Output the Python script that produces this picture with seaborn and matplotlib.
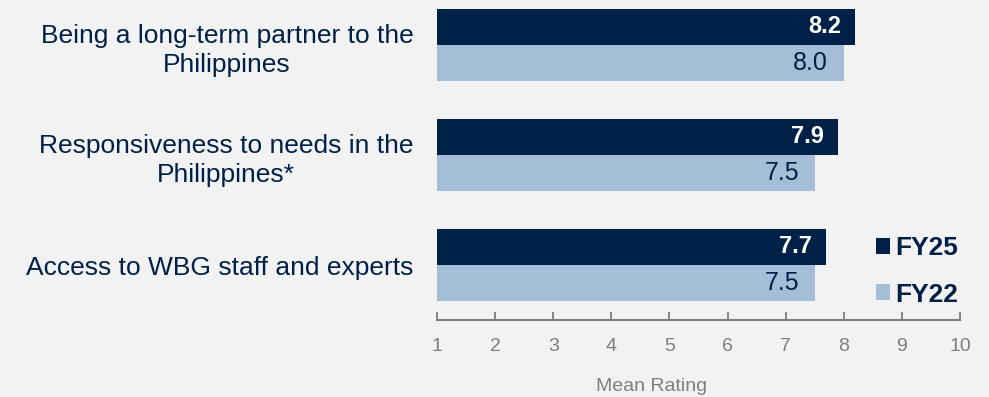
import pandas as pd
import numpy as np
import matplotlib.pyplot as plt
import seaborn as sns

#-- data --#
items = ['Being a long-term partner to the\nPhilippines',
         'Responsiveness to needs in the\nPhilippines*',
         'Access to WBG staff and experts']
fy25 = [8.2, 7.9, 7.7]
fy22 = [8.0, 7.5, 7.5]
years = ['FY25', 'FY22']

df = pd.DataFrame({'item': items * 2,
                   'rating': fy25 + fy22,
                   'year': ['FY25'] * 3 + ['FY22'] * 3})

navy = '#002147'
light = '#A3BED6'
grey = '#7F7F7F'
bg = '#F2F2F2'

sns.set_style('white')
plt.rcParams['font.family'] = ['Liberation Sans', 'DejaVu Sans']

fig = plt.figure(figsize=(9.89, 3.97), dpi=100, facecolor=bg)
ax = fig.add_axes([437 / 989, 1 - 320 / 397, (960 - 437) / 989, 320 / 397])
ax.set_facecolor(bg)

sns.barplot(data=df, y='item', x='rating', hue='year', hue_order=years,
            palette=[navy, light], orient='h', width=0.66, ax=ax,
            saturation=1, linewidth=0, legend=True)

ax.set_xlim(1, 10)
ax.set_ylim(2.5, -0.41)
ax.set_xticks(range(1, 11))

# value labels inside bar ends
for cont, yr in zip(ax.containers, years):
    for bar, v in zip(cont, df[df.year == yr].rating):
        y = bar.get_y() + bar.get_height() / 2
        if yr == 'FY25':
            ax.text(v - 0.25, y, f'{v:.1f}', ha='right', va='center',
                    color='white', fontsize=17, fontweight='bold')
        else:
            ax.text(v - 0.27, y, f'{v:.1f}', ha='right', va='center',
                    color=navy, fontsize=18)

sns.despine(ax=ax, left=True)
ax.spines['bottom'].set_color(grey)
ax.spines['bottom'].set_linewidth(1.5)
ax.tick_params(axis='x', bottom=True, direction='in', length=6, width=1.3,
               colors=grey, labelsize=14, pad=13, labelcolor=grey)
ax.tick_params(axis='y', left=False, length=0, pad=17, labelsize=19,
               labelcolor=navy)
for t in ax.get_yticklabels():
    t.set_multialignment('center')
    t.set_linespacing(1.3)

ax.set_ylabel('')
ax.set_xlabel('Mean Rating', color=grey, fontsize=14)
ax.xaxis.set_label_coords((652 - 437) / (960 - 437), -0.18)

ax.legend(loc='upper left', bbox_to_anchor=(0.839, 0.262), frameon=False,
          borderpad=0, borderaxespad=0,
          handlelength=0.55, handleheight=0.55, handletextpad=0.2,
          labelspacing=0.85, labelcolor=navy,
          prop={'weight': 'bold', 'size': 19})

fig.savefig('out.png', dpi=100, facecolor=bg)
